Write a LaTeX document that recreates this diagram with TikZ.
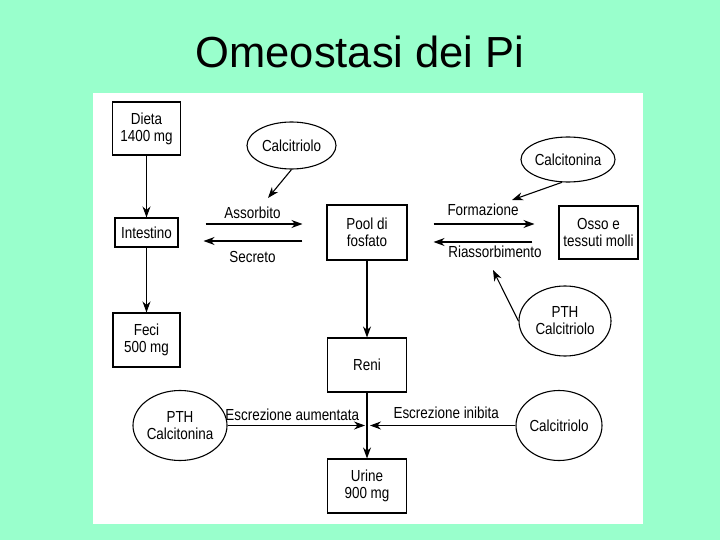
\documentclass[tikz,border=0pt]{standalone}
\usepackage{fontspec}
\setmainfont{Liberation Sans}
\newfontfamily\narrowsf{Liberation Sans}[FakeStretch=0.84]
\usetikzlibrary{arrows.meta,shapes.geometric}
\definecolor{mint}{RGB}{153,255,204}
\begin{document}
\begin{tikzpicture}[x=1bp,y=-1bp,line width=1.1bp,
			font=\narrowsf\fontsize{16bp}{17bp}\selectfont,
			arr/.style={-{Stealth[length=11bp,width=8bp]}},
			box/.style={
			shape=rectangle, draw,
			minimum width=79bp,
			minimum height=54bp,
			inner sep=0pt,
			align=center},
			oval/.style={
			shape=ellipse, draw,
			minimum width=88bp,
			minimum height=70bp,
			inner sep=0pt,
			align=center}]
			\useasboundingbox (0,0) rectangle (720,540);
			\fill [mint] (0,0) rectangle (720,540);
			\fill [white] (93,93) rectangle (643,524);
			\node [anchor=base,font=\rmfamily\fontsize{43.5bp}{52bp}\selectfont] (title) at (360,68) {Omeostasi dei Pi};
			\node [box,minimum width=68bp,minimum height=53bp] (dieta) at (146.5,128.5) {Dieta\\1400 mg};
			\node [box,minimum width=63bp,minimum height=29bp] (intest) at (146.5,232.5) {Intestino};
			\node [box,minimum width=67bp] (feci) at (146.5,340) {Feci\\500 mg};
			\node [box,minimum width=80bp,minimum height=55bp] (pool) at (367,232.5) {Pool di\\fosfato};
			\node [box,minimum height=53bp] (osso) at (598.5,232.5) {Osso e\\tessuti molli};
			\node [box] (reni) at (367,365) {Reni};
			\node [box] (urine) at (367,486) {Urine\\900 mg};
			\node [oval,minimum width=89bp,minimum height=47bp] (calc1) at (291.5,145.5) {Calcitriolo};
			\node [oval,minimum width=90bp,minimum height=45bp] (calcit) at (568,159.5) {Calcitonina};
			\node [oval,minimum width=92bp] (pthcal) at (565,321) {PTH\\Calcitriolo};
			\node [oval] (pthcat) at (180,425.5) {PTH\\Calcitonina};
			\node [oval,minimum width=86bp] (calc2) at (559,425.5) {Calcitriolo};
			\coordinate (assorb) at (268,198);
			\coordinate (formaz) at (512,200);
			\coordinate (riass) at (493,270);
			\coordinate (junct) at (367,425.5);
			\draw [arr] (dieta) -- (intest);
			\draw [arr] (intest) -- (feci);
			\draw [arr] (pool) -- (reni);
			\draw [arr] (reni) -- (urine);
			\draw [arr,shorten <=27bp,shorten >=24bp] ([yshift=8.5bp]intest.east) -- node[above=1bp] {Assorbito} ([yshift=8.5bp]pool.west);
			\draw [arr,shorten <=24bp,shorten >=25bp] ([yshift=-8.5bp]pool.west) -- node[below=6bp] {Secreto} ([yshift=-8.5bp]intest.east);
			\draw [arr,shorten <=26bp,shorten >=24bp] ([yshift=8.5bp]pool.east) -- node[above=4bp] {Formazione} ([yshift=8.5bp]osso.west);
			\draw [arr,shorten <=26bp,shorten >=26bp] ([yshift=-9.5bp]osso.west) -- node[below,xshift=12bp] {Riassorbimento} ([yshift=-9.5bp]pool.east);
			\draw [arr] (calc1.south) -- (assorb);
			\draw [arr] (calcit.-105) -- (formaz);
			\draw [arr] (pthcal.west) -- (riass);
			\draw [arr,shorten >=2bp] (pthcat) -- node[above=1bp,xshift=-5bp] {Escrezione aumentata} (junct);
			\draw [arr,shorten >=3bp] (calc2) -- node[above=3bp,xshift=5bp] {Escrezione inibita} (junct);
		\end{tikzpicture}
\end{document}
